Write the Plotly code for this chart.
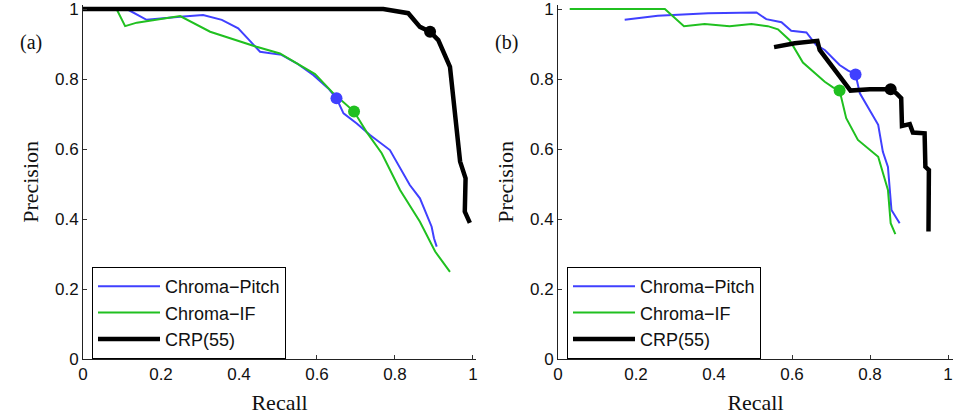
import plotly.graph_objects as go

# ---------------- data: panel (a) ----------------
a_pitch_recall = [0.112, 0.163, 0.249, 0.308, 0.356, 0.398, 0.454, 0.509, 0.548, 0.591, 0.629, 0.650,
                  0.668, 0.702, 0.736, 0.787, 0.838, 0.864, 0.894, 0.900, 0.907]
a_pitch_prec = [1.000, 0.969, 0.978, 0.983, 0.969, 0.945, 0.878, 0.869, 0.845, 0.811, 0.773, 0.745,
                0.702, 0.673, 0.640, 0.597, 0.497, 0.459, 0.378, 0.345, 0.321]
a_if_recall = [0.086, 0.108, 0.138, 0.249, 0.326, 0.445, 0.505, 0.548, 0.595, 0.642, 0.695, 0.727,
               0.766, 0.813, 0.864, 0.903, 0.941]
a_if_prec = [1.000, 0.951, 0.961, 0.980, 0.935, 0.892, 0.873, 0.845, 0.814, 0.759, 0.707, 0.649,
             0.588, 0.483, 0.392, 0.307, 0.249]
a_crp_recall = [0.000, 0.770, 0.834, 0.864, 0.890, 0.911, 0.941, 0.954, 0.967, 0.981, 0.979, 0.992]
a_crp_prec = [1.000, 1.000, 0.988, 0.949, 0.935, 0.911, 0.835, 0.711, 0.564, 0.516, 0.421, 0.389]
a_dots_recall = [0.650, 0.695, 0.890]
a_dots_prec = [0.745, 0.707, 0.935]

# ---------------- data: panel (b) ----------------
b_pitch_recall = [0.171, 0.256, 0.385, 0.509, 0.534, 0.573, 0.598, 0.637, 0.662, 0.684, 0.722, 0.744,
                  0.763, 0.774, 0.821, 0.833, 0.846, 0.855, 0.876]
b_pitch_prec = [0.969, 0.981, 0.988, 0.990, 0.971, 0.962, 0.938, 0.933, 0.897, 0.883, 0.840, 0.824,
                0.813, 0.759, 0.669, 0.592, 0.549, 0.426, 0.388]
b_if_recall = [0.030, 0.274, 0.323, 0.376, 0.440, 0.496, 0.538, 0.564, 0.594, 0.628, 0.684, 0.705,
               0.722, 0.739, 0.769, 0.821, 0.846, 0.853, 0.865]
b_if_prec = [1.000, 1.000, 0.951, 0.957, 0.951, 0.957, 0.951, 0.942, 0.911, 0.847, 0.792, 0.776,
             0.767, 0.688, 0.626, 0.578, 0.483, 0.388, 0.357]
b_crp_recall = [0.554, 0.607, 0.665, 0.671, 0.750, 0.799, 0.853, 0.868, 0.880, 0.882, 0.902, 0.910,
                0.940, 0.942, 0.951, 0.950]
b_crp_prec = [0.891, 0.902, 0.909, 0.883, 0.767, 0.771, 0.771, 0.759, 0.745, 0.666, 0.671, 0.647,
              0.645, 0.549, 0.540, 0.364]
b_dots_recall = [0.763, 0.722, 0.853]
b_dots_prec = [0.813, 0.767, 0.771]

series_names = ["Chroma\u2212Pitch", "Chroma\u2212IF", "CRP(55)"]
tick_vals = [0, 0.2, 0.4, 0.6, 0.8, 1]
tick_text = ["0", "0.2", "0.4", "0.6", "0.8", "1"]

BLUE = "#4040ff"
GREEN = "#20c020"
BLACK = "#000000"
dot_colors = [BLUE, GREEN, BLACK]
SANS = "Liberation Sans, Arial, sans-serif"
SERIF = "Liberation Serif, Times New Roman, serif"

fig = go.Figure()

def add_panel(xa, ya, legend, pr, pp, ir, ip, cr, cp, dr, dp):
    fig.add_trace(go.Scatter(x=pr, y=pp, mode="lines", name=series_names[0],
                             line=dict(color=BLUE, width=2), xaxis=xa, yaxis=ya, legend=legend))
    fig.add_trace(go.Scatter(x=ir, y=ip, mode="lines", name=series_names[1],
                             line=dict(color=GREEN, width=2), xaxis=xa, yaxis=ya, legend=legend))
    fig.add_trace(go.Scatter(x=cr, y=cp, mode="lines", name=series_names[2],
                             line=dict(color=BLACK, width=4.5), xaxis=xa, yaxis=ya, legend=legend))
    fig.add_trace(go.Scatter(x=dr, y=dp, mode="markers", showlegend=False, cliponaxis=False,
                             marker=dict(color=dot_colors, size=12), xaxis=xa, yaxis=ya))

add_panel("x", "y", "legend", a_pitch_recall, a_pitch_prec, a_if_recall, a_if_prec,
          a_crp_recall, a_crp_prec, a_dots_recall, a_dots_prec)
add_panel("x2", "y2", "legend2", b_pitch_recall, b_pitch_prec, b_if_recall, b_if_prec,
          b_crp_recall, b_crp_prec, b_dots_recall, b_dots_prec)

W, H = 953, 416
y_dom = [(H - 359) / H, (H - 359) / H + 1.012 * 350 / H]

axis_common = dict(
    tickvals=tick_vals, ticktext=tick_text, ticks="inside", ticklen=4, tickwidth=1,
    tickcolor="#333333", showline=True, linecolor="#222222", linewidth=1,
    showgrid=False, zeroline=False, tickfont=dict(family=SANS, size=17, color="#111111"),
    automargin=False, fixedrange=True, ticklabeloverflow="allow",
)

title_font = dict(family=SERIF, size=22, color="#111111")

legend_common = dict(
    bgcolor="white", bordercolor="black", borderwidth=1,
    font=dict(family=SANS, size=18, color="#111111"),
    xanchor="left", yanchor="middle", itemwidth=62, tracegroupgap=0,
    itemclick=False, itemdoubleclick=False,
)

fig.update_layout(
    width=W, height=H, margin=dict(l=0, r=0, t=0, b=0, pad=0),
    paper_bgcolor="white", plot_bgcolor="white", showlegend=True,
    xaxis=dict(domain=[83 / W, 476.1 / W], range=[0, 1.008], anchor="y",
               title=dict(text="Recall", font=title_font, standoff=11), **axis_common),
    yaxis=dict(domain=y_dom, range=[0, 1.012], anchor="x",
               title=dict(text="Precision", font=title_font, standoff=10), **axis_common),
    xaxis2=dict(domain=[558 / W, 1.0], range=[0, 395 / 390], anchor="y2",
                title=dict(text="Recall", font=title_font, standoff=11), **axis_common),
    yaxis2=dict(domain=y_dom, range=[0, 1.012], anchor="x2",
                title=dict(text="Precision", font=title_font, standoff=10), **axis_common),
    legend=dict(x=92 / W, y=(H - 313) / H, **legend_common),
    legend2=dict(x=567 / W, y=(H - 313) / H, **legend_common),
    annotations=[
        dict(text="(a)", x=18 / W, y=(H - 29) / H, xref="paper", yref="paper",
             showarrow=False, font=dict(family=SERIF, size=20, color="#111111")),
        dict(text="(b)", x=506 / W, y=(H - 29) / H, xref="paper", yref="paper",
             showarrow=False, font=dict(family=SERIF, size=20, color="#111111")),
    ],
)

fig.write_html("out.html", config={"displayModeBar": False},
               post_script="document.body.style.margin='0px';")
